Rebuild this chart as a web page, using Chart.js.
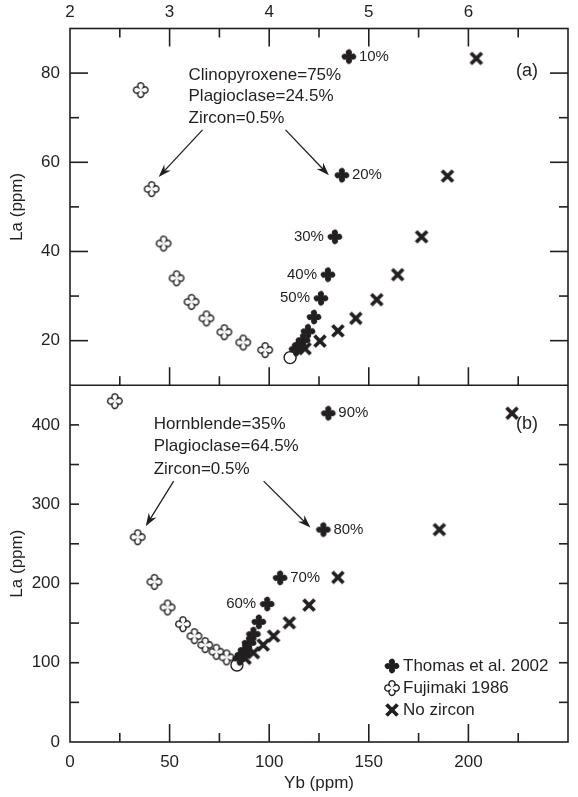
<!DOCTYPE html>
<html>
<head>
<meta charset="UTF-8">
<title>La vs Yb</title>
<script src="https://cdn.jsdelivr.net/npm/chart.js"></script>
<style>
  html, body { margin: 0; padding: 0; background: #fff; }
</style>
</head>
<body>
<canvas id="laYb" width="578" height="797"></canvas>
<script>
// panel (a): Yb read on the top axis (ppm), La (ppm)
const ybThomasA = [4.80, 4.73, 4.66, 4.59, 4.52, 4.45, 4.39, 4.34, 4.30, 4.27];
const laThomasA = [83.7, 57.1, 43.3, 34.8, 29.5, 25.3, 22.1, 20.1, 18.9, 18.1];
const ybNoZrA = [6.08, 5.79, 5.53, 5.29, 5.08, 4.87, 4.69, 4.51, 4.36];
const laNoZrA = [83.3, 56.9, 43.3, 34.8, 29.2, 25.0, 22.2, 19.9, 18.2];
const ybFujiA = [2.71, 2.82, 2.94, 3.07, 3.22, 3.37, 3.55, 3.74, 3.96];
const laFujiA = [76.2, 54.0, 41.8, 34.0, 28.7, 25.0, 21.9, 19.6, 17.9];
const ybStartA = [4.21];
const laStartA = [16.2];
const pctA = ['10%', '20%', '30%', '40%', '50%'];
const noteA = ['Clinopyroxene=75%', 'Plagioclase=24.5%', 'Zircon=0.5%'];

// panel (b): Yb on the bottom axis (ppm), La (ppm)
const ybThomasB = [129.7, 127.2, 105.5, 99.0, 94.8, 92.1, 89.9, 87.9, 86.3, 85.2];
const laThomasB = [414.7, 267.9, 207.1, 174.0, 151.6, 136.1, 125.1, 116.0, 109.7, 105.5];
const ybNoZrB = [221.9, 185.4, 134.5, 120.0, 110.1, 102.2, 97.0, 92.1, 87.9];
const laNoZrB = [414.7, 267.9, 207.6, 172.7, 150.4, 133.6, 122.3, 112.6, 105.5];
const ybFujiB = [22.5, 34.0, 42.4, 49.0, 56.7, 62.5, 67.9, 73.5, 78.6];
const laFujiB = [430, 258.4, 202, 169.8, 148.7, 133.6, 122.3, 113.8, 106.8];
const ybStartB = [83.8];
const laStartB = [97.1];
const pctB = ['90%', '80%', '70%', '60%'];
const noteB = ['Hornblende=35%', 'Plagioclase=64.5%', 'Zircon=0.5%'];

const legendNames = ['Thomas et al. 2002', 'Fujimaki 1986', 'No zircon'];

const INK = '#231f20';
const FONT = "'Liberation Sans', Arial, Helvetica, sans-serif";

function pts(xs, ys) {
  return xs.map((x, i) => ({ x: x, y: ys[i] }));
}

// four-lobed cross marker, filled or open
function lobeMarker(filled) {
  const c = document.createElement('canvas');
  c.width = c.height = 20;
  const g = c.getContext('2d');
  const d = 4.2, R = 3.05;
  const t = (d + Math.sqrt(2 * R * R - d * d)) / 2;
  const a = Math.atan2(t, t - d);
  g.beginPath();
  for (let k = 0; k < 4; k++) {
    const th = k * Math.PI / 2;
    g.arc(10 + d * Math.cos(th), 10 + d * Math.sin(th), R, th - a, th + a);
  }
  g.closePath();
  if (filled) {
    g.fillStyle = INK;
    g.fill();
  } else {
    g.fillStyle = '#fff';
    g.fill();
    g.lineWidth = 1.4;
    g.strokeStyle = INK;
    g.stroke();
  }
  return c;
}

function crossMarker() {
  const c = document.createElement('canvas');
  c.width = c.height = 18;
  const g = c.getContext('2d');
  g.strokeStyle = INK;
  g.lineWidth = 3.8;
  g.beginPath();
  g.moveTo(3.5, 3.5); g.lineTo(14.5, 14.5);
  g.moveTo(14.5, 3.5); g.lineTo(3.5, 14.5);
  g.stroke();
  return c;
}

const mkFilled = lobeMarker(true);
const mkOpen = lobeMarker(false);
const mkCross = crossMarker();

function set(data, marker, xAxis, yAxis) {
  return {
    data: data, pointStyle: marker, pointRadius: 8, xAxisID: xAxis, yAxisID: yAxis, clip: false
  };
}
function startSet(data, xAxis, yAxis) {
  return {
    data: data, pointStyle: 'circle', pointRadius: 6, pointBackgroundColor: '#fff',
    pointBorderColor: INK, pointBorderWidth: 1.4, xAxisID: xAxis, yAxisID: yAxis, clip: false
  };
}

function line(ctx, x1, y1, x2, y2) {
  ctx.beginPath();
  ctx.moveTo(x1, y1);
  ctx.lineTo(x2, y2);
  ctx.stroke();
}

function arrow(ctx, x1, y1, x2, y2) {
  const ang = Math.atan2(y2 - y1, x2 - x1);
  const L = 13, W = 4.5;
  ctx.lineWidth = 1.3;
  line(ctx, x1, y1, x2 - Math.cos(ang) * 8, y2 - Math.sin(ang) * 8);
  ctx.save();
  ctx.translate(x2, y2);
  ctx.rotate(ang);
  ctx.beginPath();
  ctx.moveTo(0, 0);
  ctx.lineTo(-L, -W);
  ctx.lineTo(-L + 4, 0);
  ctx.lineTo(-L, W);
  ctx.closePath();
  ctx.fill();
  ctx.restore();
}

const frame = {
  id: 'frame',
  beforeDatasetsDraw(chart) {
    const { ctx, chartArea: a } = chart;
    const { x, xTop, yA, yB } = chart.scales;
    ctx.save();
    ctx.strokeStyle = INK;
    ctx.lineWidth = 1.6;
    ctx.strokeRect(a.left, a.top, a.right - a.left, a.bottom - a.top);
    const mid = yA.bottom;
    line(ctx, a.left, mid, a.right, mid);
    // panel (a): ticks on top and bottom edges
    for (let v = 2.5; v < 7; v += 0.5) {
      const p = xTop.getPixelForValue(v);
      const len = v % 1 === 0 ? 18 : 9;
      line(ctx, p, a.top, p, a.top + len);
      line(ctx, p, mid, p, mid - len);
    }
    // panel (b): ticks on the bottom edge
    for (let v = 25; v < 250; v += 25) {
      const p = x.getPixelForValue(v);
      line(ctx, p, a.bottom, p, a.bottom - (v % 50 === 0 ? 18 : 9));
    }
    for (let v = 20; v < 90; v += 10) {
      const p = yA.getPixelForValue(v);
      const len = v % 20 === 0 ? 18 : 9;
      line(ctx, a.left, p, a.left + len, p);
      line(ctx, a.right, p, a.right - len, p);
    }
    for (let v = 50; v < 450; v += 50) {
      const p = yB.getPixelForValue(v);
      line(ctx, a.left, p, a.left + 9, p);
      line(ctx, a.right, p, a.right - 9, p);
    }
    ctx.restore();
  },
  afterDatasetsDraw(chart) {
    const { ctx, chartArea: a } = chart;
    const { x, xTop, yA, yB } = chart.scales;
    ctx.save();
    ctx.fillStyle = INK;
    ctx.strokeStyle = INK;
    ctx.textBaseline = 'middle';

    // percentage labels beside the model points
    ctx.font = '15px ' + FONT;
    pctA.forEach((t, i) => {
      const px = xTop.getPixelForValue(ybThomasA[i]);
      const py = yA.getPixelForValue(laThomasA[i]);
      ctx.textAlign = i < 2 ? 'left' : 'right';
      ctx.fillText(t, i < 2 ? px + 10 : px - 11, py);
    });
    pctB.forEach((t, i) => {
      const px = x.getPixelForValue(ybThomasB[i]);
      const py = yB.getPixelForValue(laThomasB[i]);
      ctx.textAlign = i < 3 ? 'left' : 'right';
      ctx.fillText(t, i < 3 ? px + 10 : px - 11, py);
    });

    // mineral proportion notes
    ctx.font = '17px ' + FONT;
    ctx.textAlign = 'left';
    const ax = xTop.getPixelForValue(3.19), ay = yA.getPixelForValue(79.6);
    noteA.forEach((t, i) => ctx.fillText(t, ax, ay + i * 21.7));
    const bx = x.getPixelForValue(42), by = yB.getPixelForValue(401);
    noteB.forEach((t, i) => ctx.fillText(t, bx, by + i * 22.5));

    // arrows to the Fujimaki and Thomas curves
    const fa = [xTop.getPixelForValue(ybFujiA[1]), yA.getPixelForValue(laFujiA[1])];
    const ta = [xTop.getPixelForValue(ybThomasA[1]), yA.getPixelForValue(laThomasA[1])];
    arrow(ctx, ax + 14, ay + 55, fa[0] + 7, fa[1] - 12);
    arrow(ctx, ax + 97, ay + 55, ta[0] - 13, ta[1]);
    const fb = [x.getPixelForValue(ybFujiB[1]), yB.getPixelForValue(laFujiB[1])];
    const tb = [x.getPixelForValue(ybThomasB[1]), yB.getPixelForValue(laThomasB[1])];
    arrow(ctx, bx + 20, by + 57, fb[0] + 8, fb[1] - 11);
    arrow(ctx, bx + 110, by + 57, tb[0] - 13, tb[1] - 2);

    // panel letters
    ctx.font = '18px ' + FONT;
    ctx.textAlign = 'right';
    ctx.fillText('(a)', a.right - 30, yA.getPixelForValue(80.4));
    ctx.fillText('(b)', a.right - 30, yB.getPixelForValue(401));

    // legend
    ctx.font = '17px ' + FONT;
    ctx.textAlign = 'left';
    const marks = [mkFilled, mkOpen, mkCross];
    legendNames.forEach((t, i) => {
      const lx = a.right - 176, ly = a.bottom - 76 + i * 22;
      const m = marks[i];
      ctx.drawImage(m, lx - m.width / 2, ly - m.height / 2);
      ctx.fillText(t, lx + 11, ly);
    });
    ctx.restore();
  }
};

const tickFont = { family: FONT, size: 17 };

new Chart(document.getElementById('laYb'), {
  type: 'scatter',
  data: {
    datasets: [
      set(pts(ybThomasA, laThomasA), mkFilled, 'xTop', 'yA'),
      set(pts(ybNoZrA, laNoZrA), mkCross, 'xTop', 'yA'),
      set(pts(ybFujiA, laFujiA), mkOpen, 'xTop', 'yA'),
      startSet(pts(ybStartA, laStartA), 'xTop', 'yA'),
      set(pts(ybThomasB, laThomasB), mkFilled, 'x', 'yB'),
      set(pts(ybNoZrB, laNoZrB), mkCross, 'x', 'yB'),
      set(pts(ybFujiB, laFujiB), mkOpen, 'x', 'yB'),
      startSet(pts(ybStartB, laStartB), 'x', 'yB')
    ]
  },
  options: {
    responsive: false,
    animation: false,
    events: [],
    layout: { padding: { left: 0, right: 1, top: 0, bottom: 0 } },
    plugins: { legend: { display: false }, tooltip: { enabled: false } },
    scales: {
      x: {
        type: 'linear', position: 'bottom', min: 0, max: 250,
        grid: { display: false, drawTicks: false }, border: { display: false },
        ticks: {
          stepSize: 25, padding: 10, autoSkip: false, maxRotation: 0, color: INK, font: tickFont,
          callback: v => (v % 50 === 0 && v < 250) ? v : ''
        },
        title: { display: true, text: 'Yb (ppm)', color: INK, font: tickFont, padding: { top: 0, bottom: 3 } },
        afterFit: s => { s.height = 55; }
      },
      xTop: {
        type: 'linear', position: 'top', min: 2, max: 7,
        grid: { display: false, drawTicks: false }, border: { display: false },
        ticks: {
          stepSize: 0.5, padding: 6, autoSkip: false, maxRotation: 0, color: INK, font: tickFont,
          callback: v => (Number.isInteger(v) && v < 7) ? v : ''
        },
        afterFit: s => { s.height = 28.5; }
      },
      yB: {
        type: 'linear', position: 'left', stack: 'la', stackWeight: 1, min: 0, max: 450,
        grid: { display: false, drawTicks: false }, border: { display: false },
        ticks: {
          stepSize: 50, padding: 10, autoSkip: false, color: INK, font: tickFont,
          callback: v => v % 100 === 0 ? v : ''
        },
        title: { display: true, text: 'La (ppm)', color: INK, font: tickFont, padding: { top: 7, bottom: 0 } },
        afterFit: s => { s.width = 70; }
      },
      yA: {
        type: 'linear', position: 'left', stack: 'la', stackWeight: 1, min: 10, max: 90,
        grid: { display: false, drawTicks: false }, border: { display: false },
        ticks: {
          stepSize: 10, padding: 10, autoSkip: false, color: INK, font: tickFont,
          callback: v => v % 20 === 0 ? v : ''
        },
        title: { display: true, text: 'La (ppm)', color: INK, font: tickFont, padding: { top: 7, bottom: 0 } },
        afterFit: s => { s.width = 70; }
      }
    }
  },
  plugins: [frame]
});
</script>
</body>
</html>
